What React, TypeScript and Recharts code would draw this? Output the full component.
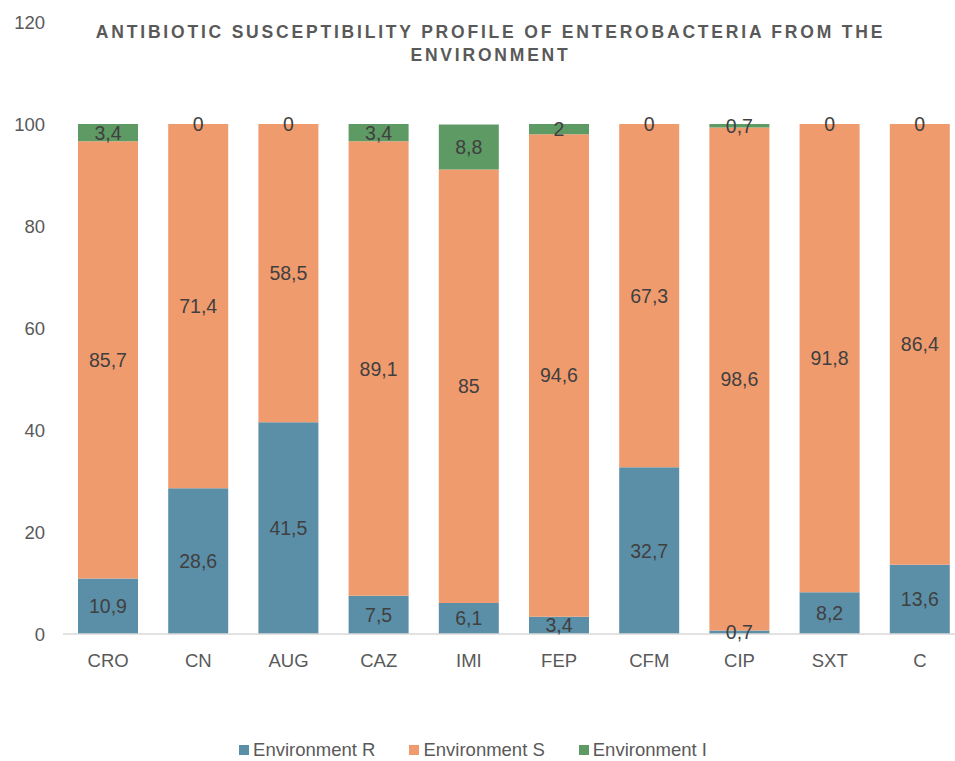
import React from "react";
import { BarChart, Bar, XAxis, YAxis, LabelList } from "recharts";

const antibiotics = ["CRO", "CN", "AUG", "CAZ", "IMI", "FEP", "CFM", "CIP", "SXT", "C"];
const resistant = [10.9, 28.6, 41.5, 7.5, 6.1, 3.4, 32.7, 0.7, 8.2, 13.6];
const susceptible = [85.7, 71.4, 58.5, 89.1, 85, 94.6, 67.3, 98.6, 91.8, 86.4];
const intermediate = [3.4, 0, 0, 3.4, 8.8, 2, 0, 0.7, 0, 0];
const yTicks = [0, 20, 40, 60, 80, 100, 120];

const series = [
  { key: "R", name: "Environment R", color: "#5b8fa8" },
  { key: "S", name: "Environment S", color: "#f09b6e" },
  { key: "I", name: "Environment I", color: "#5e9a64" },
];

const data = antibiotics.map((name, i) => ({
  name,
  R: resistant[i],
  S: susceptible[i],
  I: intermediate[i],
}));

const font = "Liberation Sans, Arial, sans-serif";
const fmt = (v: number) => String(v).replace(".", ",");

function labelText(x: number, y: number, value: number, key: string) {
  return (
    <text
      key={key}
      x={x}
      y={y}
      textAnchor="middle"
      dominantBaseline="central"
      fill="#404040"
      fontSize={19.5}
      fontFamily={font}
    >
      {fmt(value)}
    </text>
  );
}

function CenterLabel(props: any) {
  const { x, y, width, height, value, index, seriesKey } = props;
  const cx = x + width / 2;
  const parts = [labelText(cx, y + height / 2, value, "v")];
  // zero-height "I" segments are not drawn, so show their 0 on top of S
  if (seriesKey === "S" && intermediate[index] === 0) {
    parts.push(labelText(cx, y, 0, "z"));
  }
  return <g>{parts}</g>;
}

export default function App() {
  return (
    <div
      style={{
        position: "absolute",
        left: 0,
        top: 0,
        width: 955,
        height: 761,
        overflow: "hidden",
        background: "#fff",
        fontFamily: font,
      }}
    >
      <div
        style={{
          position: "absolute",
          left: 0,
          top: 21,
          width: 981,
          textAlign: "center",
          fontWeight: "bold",
          fontSize: 17.5,
          letterSpacing: 2.8,
          lineHeight: "23px",
          color: "#595959",
        }}
      >
        ANTIBIOTIC SUSCEPTIBILITY PROFILE OF ENTEROBACTERIA FROM THE
        <br />
        ENVIRONMENT
      </div>
      <BarChart
        width={965}
        height={761}
        data={data}
        margin={{ top: 22, right: 0, bottom: 97, left: 0 }}
        barSize={60}
      >
        <XAxis
          dataKey="name"
          tickLine={false}
          axisLine={{ stroke: "#d9d9d9", strokeWidth: 1.5 }}
          tick={{ fill: "#595959", fontSize: 18.5, fontFamily: font }}
          tickMargin={14}
        />
        <YAxis
          width={63}
          domain={[0, 120]}
          ticks={yTicks}
          axisLine={false}
          tickLine={false}
          tickMargin={12}
          tick={{ fill: "#595959", fontSize: 18.5, fontFamily: font }}
        />
        {series.map((s) => (
          <Bar
            key={s.key}
            dataKey={s.key}
            name={s.name}
            stackId="a"
            fill={s.color}
            isAnimationActive={false}
          >
            <LabelList dataKey={s.key} content={<CenterLabel seriesKey={s.key} />} />
          </Bar>
        ))}
      </BarChart>
      <div
        style={{
          position: "absolute",
          left: 0,
          top: 739,
          width: 946,
          display: "flex",
          justifyContent: "center",
          gap: 34,
          fontSize: 18.5,
          color: "#595959",
        }}
      >
        {series.map((s) => (
          <div key={s.key} style={{ display: "flex", alignItems: "center" }}>
            <span
              style={{
                display: "inline-block",
                width: 10,
                height: 10,
                background: s.color,
                marginRight: 4,
              }}
            />
            {s.name}
          </div>
        ))}
      </div>
    </div>
  );
}
